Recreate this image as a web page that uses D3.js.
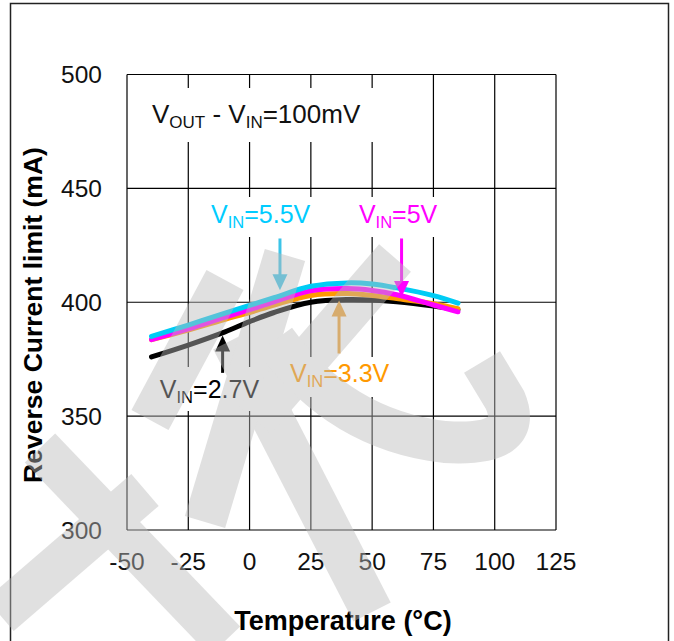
<!DOCTYPE html>
<html>
<head>
<meta charset="utf-8">
<script src="https://cdn.jsdelivr.net/npm/d3@7"></script>
<style>
  body { margin: 0; background: #fff; }
  text { font-family: Arial, "Liberation Sans", sans-serif; }
</style>
</head>
<body>
<svg width="674" height="641"></svg>
<script>
// temperature points (°C) and reverse current limit (mA) for each VIN
var temps = [-40, -25, -10, 0, 10, 25, 40, 50, 60, 75, 85];
var vin27 = [376.0, 381.2, 387.0, 391.5, 395.5, 400.0, 401.2, 401.0, 400.2, 398.3, 396.7];
var vin33 = [383.6, 387.8, 392.5, 395.5, 398.8, 403.0, 403.8, 403.0, 401.6, 399.4, 397.2];
var vin5 = [383.6, 388.3, 393.5, 396.8, 400.2, 405.0, 406.0, 405.2, 403.3, 398.8, 395.8];
var vin55 = [385.0, 390.0, 395.2, 398.6, 402.0, 407.0, 408.5, 408.0, 406.3, 402.9, 399.6];

var xTicks = [-50, -25, 0, 25, 50, 75, 100, 125];
var yTicks = [300, 350, 400, 450, 500];

var svg = d3.select("svg");

var x = d3.scaleLinear().domain([-50, 125]).range([127, 556]);
var y = d3.scaleLinear().domain([300, 500]).range([530, 74.5]);

var series = [
    {name: "2.7V", values: vin27, color: "#000000"},
    {name: "3.3V", values: vin33, color: "#ff9900"},
    {name: "5V", values: vin5, color: "#ff00ff"},
    {name: "5.5V", values: vin55, color: "#00ccf5"}
];

// label boxes (data units), arrows
var labels = [
    {sub: "IN", text: "=5.5V", t: -15.7, v: 434.6, color: "#00ccff"},
    {sub: "IN", text: "=5V", t: 44.6, v: 434.6, color: "#ff00ff"},
    {sub: "IN", text: "=2.7V", t: -36.6, v: 358.0, color: "#000000"},
    {sub: "IN", text: "=3.3V", t: 16.5, v: 365.2, color: "#ff9900"}
];
var arrows = [
    {t: 12.4, from: 428, to: 405.3, color: "#3cc4e8"},
    {t: 62.0, from: 428, to: 402.3, color: "#ff00ff"},
    {t: 36.5, from: 377.5, to: 400.8, color: "#f0a030"},
    {t: -11.0, from: 369, to: 385.4, color: "#000000"}
];

// outer frame
svg.append("rect")
    .attr("x", 10.5).attr("y", 3.5)
    .attr("width", 658).attr("height", 700)
    .attr("fill", "none").attr("stroke", "#222").attr("stroke-width", 1.5);

// grid
var grid = svg.append("g");
grid.selectAll("line.v")
    .data(xTicks)
    .enter().append("line")
    .attr("x1", function(d) { return x(d); })
    .attr("x2", function(d) { return x(d); })
    .attr("y1", y(300)).attr("y2", y(500))
    .attr("stroke", "#000").attr("stroke-width", 1.2);
grid.selectAll("line.h")
    .data(yTicks)
    .enter().append("line")
    .attr("y1", function(d) { return y(d); })
    .attr("y2", function(d) { return y(d); })
    .attr("x1", x(-50)).attr("x2", x(125))
    .attr("stroke", "#000").attr("stroke-width", 1.2);

// white boxes behind the annotations (they cut the grid)
svg.append("rect").attr("x", x(-50) + 1).attr("y", 88).attr("width", 280).attr("height", 54).attr("fill", "#fff");
var boxes = [[205, 197, 240, 40], [150, 367, 120, 44], [286, 357, 100, 40]];
boxes.forEach(function(b) {
    svg.append("rect").attr("x", b[0]).attr("y", b[1]).attr("width", b[2]).attr("height", b[3]).attr("fill", "#fff");
});

// axes labels
svg.append("g").selectAll("text")
    .data(xTicks)
    .enter().append("text")
    .attr("x", function(d) { return x(d); })
    .attr("y", 570)
    .attr("text-anchor", "middle")
    .attr("font-size", 24.5)
    .attr("fill", "#111")
    .text(function(d) { return d; });

svg.append("g").selectAll("text")
    .data(yTicks)
    .enter().append("text")
    .attr("x", 102)
    .attr("y", function(d) { return y(d) + 8.5; })
    .attr("text-anchor", "end")
    .attr("font-size", 24.5)
    .attr("fill", "#111")
    .text(function(d) { return d; });

svg.append("text")
    .attr("x", 343).attr("y", 630)
    .attr("text-anchor", "middle")
    .attr("font-size", 27).attr("font-weight", "bold")
    .text("Temperature (°C)");

svg.append("text")
    .attr("transform", "translate(42,315) rotate(-90)")
    .attr("text-anchor", "middle")
    .attr("font-size", 26.5).attr("font-weight", "bold")
    .text("Reverse Current limit (mA)");

// curves
var line = d3.line()
    .x(function(d, i) { return x(temps[i]); })
    .y(function(d) { return y(d); })
    .curve(d3.curveCatmullRom.alpha(0.5));

svg.append("g").selectAll("path")
    .data(series)
    .enter().append("path")
    .attr("d", function(d) { return line(d.values); })
    .attr("fill", "none")
    .attr("stroke", function(d) { return d.color; })
    .attr("stroke-width", 5)
    .attr("stroke-linecap", "round");

// arrows
arrows.forEach(function(a) {
    var x0 = x(a.t), y0 = y(a.from), y1 = y(a.to);
    var dir = y1 > y0 ? 1 : -1;
    svg.append("line")
        .attr("x1", x0).attr("x2", x0)
        .attr("y1", y0).attr("y2", y1 - dir * 12)
        .attr("stroke", a.color).attr("stroke-width", 3);
    svg.append("path")
        .attr("d", "M" + (x0 - 7.5) + "," + (y1 - dir * 16) + "L" + (x0 + 7.5) + "," + (y1 - dir * 16) + "L" + x0 + "," + y1 + "Z")
        .attr("fill", a.color);
});

// annotation texts
function vText(t, v, sub, rest, color, size) {
    var el = svg.append("text")
        .attr("x", x(t)).attr("y", y(v))
        .attr("font-size", size).attr("fill", color);
    el.append("tspan").text("V");
    el.append("tspan").attr("font-size", size * 0.66).attr("dy", 5).text(sub);
    el.append("tspan").attr("dy", -5).text(rest);
    return el;
}

var title = svg.append("text")
    .attr("x", x(-39.8)).attr("y", y(478.6))
    .attr("font-size", 26).attr("fill", "#111");
title.append("tspan").text("V");
title.append("tspan").attr("font-size", 17).attr("dy", 5).text("OUT");
title.append("tspan").attr("dy", -5).text(" - V");
title.append("tspan").attr("font-size", 17).attr("dy", 5).text("IN");
title.append("tspan").attr("dy", -5).text("=100mV");

labels.forEach(function(l) {
    vText(l.t, l.v, l.sub, l.text, l.color, 25);
});

// faint watermark drawn over everything
var watermark = [
    "M0,615L145,490",
    "M40,448L225,641",
    "M232,340L372,612",
    "M285,255L205,522",
    "M395,258L255,420",
    "M225,280L150,420",
    "M275,340Q340,430 445,442Q525,447 505,400L482,362"
];
svg.append("g")
    .attr("opacity", 0.45)
    .selectAll("path")
    .data(watermark)
    .enter().append("path")
    .attr("d", function(d) { return d; })
    .attr("fill", "none")
    .attr("stroke", "#bbbbbb")
    .attr("stroke-width", 42);
</script>
</body>
</html>
